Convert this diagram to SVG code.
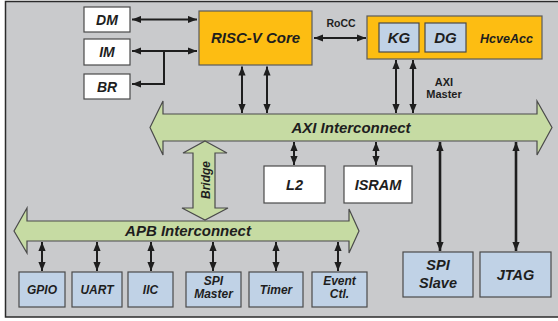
<svg xmlns="http://www.w3.org/2000/svg" width="558" height="321" viewBox="0 0 558 321">
<style>
.t{font-family:"Liberation Sans",Arial,sans-serif;font-weight:bold;font-style:italic;fill:#1e1e1e;text-anchor:middle}
.s{font-family:"Liberation Sans",Arial,sans-serif;font-weight:bold;fill:#1e1e1e;text-anchor:middle}
.w{fill:#ffffff;stroke:#4a4a4a;stroke-width:1.2}
.o{fill:#FDBD12;stroke:#5a5a5a;stroke-width:1.2}
.b{fill:#C0D2E6;stroke:#4a4a4a;stroke-width:1.2}
.g{fill:#C6DBA3;stroke:#4a4a4a;stroke-width:1.2}
.a{stroke:#1e1e1e;stroke-width:2;fill:none;marker-end:url(#ah);marker-start:url(#ah)}
.a1{stroke:#1e1e1e;stroke-width:2;fill:none;marker-end:url(#ah)}
.th{stroke-width:2.6}
</style>
<defs>
<marker id="ah" viewBox="0 0 10 8" refX="10" refY="4" markerWidth="9" markerHeight="8" orient="auto-start-reverse" markerUnits="userSpaceOnUse">
<path d="M0,0 L10,4 L0,8 z" fill="#1e1e1e"/>
</marker>
</defs>
<rect x="5.5" y="1.5" width="560" height="315.5" fill="#C9CACC" stroke="#2b2b2b" stroke-width="1.5"/>

<g id="axi">
<polygon class="g" points="150,127.5 163,101 163,114 537,114 537,101 552,127.5 537,155 537,141 163,141 163,155"/>
<text class="t" x="351" y="132.5" font-size="15">AXI Interconnect</text>
</g>
<g id="apb">
<polygon class="g" points="14,231 27,208 27,221 349,221 349,209 359,231 349,253 349,241 27,241 27,253"/>
<text class="t" x="188" y="235.5" font-size="15">APB Interconnect</text>
</g>
<g id="bridge">
<polygon class="g" points="205,141 227,153 215,153 215,208 228,208 205,220 182,208 193,208 193,153 183,153"/>
<text class="t" x="0" y="0" font-size="12" transform="translate(209.5,180) rotate(-90)">Bridge</text>
</g>

<g id="dm"><rect class="w" x="84" y="7" width="46" height="25"/><text class="t" x="107" y="24.5" font-size="14">DM</text></g>
<g id="im"><rect class="w" x="84" y="39" width="46" height="26"/><text class="t" x="107" y="57" font-size="14">IM</text></g>
<g id="br"><rect class="w" x="84" y="74" width="46" height="25"/><text class="t" x="107" y="91.5" font-size="14">BR</text></g>

<g id="core"><rect class="o" x="199" y="11" width="113" height="54"/><text class="t" x="255.5" y="43" font-size="15">RISC-V Core</text></g>

<g id="hcveacc">
<rect class="o" x="367" y="16" width="175" height="43"/>
<text class="t" x="506.5" y="43" font-size="12.5">HcveAcc</text>
<g id="kg"><rect class="b" x="379" y="23" width="40" height="29"/><text class="t" x="399" y="43" font-size="15">KG</text></g>
<g id="dg"><rect class="b" x="425" y="23" width="41" height="29"/><text class="t" x="445.5" y="43" font-size="15">DG</text></g>
</g>

<g id="l2"><rect class="w" x="264" y="166" width="61" height="37"/><text class="t" x="294.5" y="189.5" font-size="14.5">L2</text></g>
<g id="isram"><rect class="w" x="344" y="166" width="68" height="37"/><text class="t" x="378" y="189.5" font-size="14.5">ISRAM</text></g>

<g id="gpio"><rect class="b" x="19" y="272" width="46" height="35"/><text class="t" x="42" y="293.5" font-size="12">GPIO</text></g>
<g id="uart"><rect class="b" x="72" y="272" width="50" height="35"/><text class="t" x="97" y="293.5" font-size="12">UART</text></g>
<g id="iic"><rect class="b" x="128" y="272" width="45" height="35"/><text class="t" x="150.5" y="293.5" font-size="12">IIC</text></g>
<g id="spimaster"><rect class="b" x="186" y="272" width="55" height="35"/><text class="t" x="213.5" y="285" font-size="12">SPI</text><text class="t" x="213.5" y="298" font-size="12">Master</text></g>
<g id="timer"><rect class="b" x="249" y="272" width="54" height="35"/><text class="t" x="276" y="293.5" font-size="12">Timer</text></g>
<g id="eventctl"><rect class="b" x="312" y="272" width="55" height="35"/><text class="t" x="339.5" y="284.5" font-size="12">Event</text><text class="t" x="339.5" y="298" font-size="12">Ctl.</text></g>

<g id="spislave"><rect class="b" x="403" y="252" width="70" height="45"/><text class="t" x="438" y="269.5" font-size="14.5">SPI</text><text class="t" x="438" y="288" font-size="14.5">Slave</text></g>
<g id="jtag"><rect class="b" x="480" y="252" width="71" height="45"/><text class="t" x="515.5" y="279.5" font-size="14.5">JTAG</text></g>

<g id="connectors">
<line class="a" x1="132" y1="19.5" x2="197" y2="19.5"/>
<line class="a" x1="132" y1="51" x2="197" y2="51"/>
<polyline class="a1" points="164,51 164,84 132,84"/>
<line class="a" x1="242" y1="66.5" x2="242" y2="113"/>
<line class="a" x1="267" y1="66.5" x2="267" y2="113"/>
<line class="a" x1="314" y1="38" x2="366" y2="38"/>
<text class="s" x="341" y="27" font-size="10.5">RoCC</text>
<line class="a" x1="396" y1="60" x2="396" y2="113"/>
<line class="a" x1="413" y1="60" x2="413" y2="113"/>
<text class="s" x="444" y="86" font-size="11">AXI</text>
<text class="s" x="444" y="98" font-size="11">Master</text>
<line class="a" x1="294" y1="142" x2="294" y2="165"/>
<line class="a" x1="376" y1="142" x2="376" y2="165"/>
<line class="a th" x1="440" y1="142" x2="440" y2="251"/>
<line class="a th" x1="516" y1="142" x2="516" y2="251"/>
<line class="a" x1="42" y1="242" x2="42" y2="271"/>
<line class="a" x1="97" y1="242" x2="97" y2="271"/>
<line class="a" x1="151" y1="242" x2="151" y2="271"/>
<line class="a" x1="213" y1="242" x2="213" y2="271"/>
<line class="a" x1="276" y1="242" x2="276" y2="271"/>
<line class="a" x1="338" y1="242" x2="338" y2="271"/>
</g>
</svg>
